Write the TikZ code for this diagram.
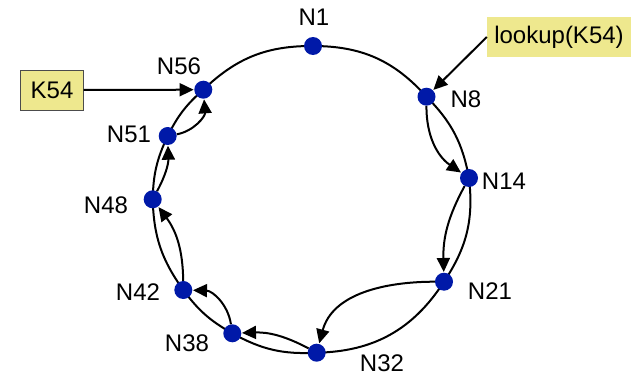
\documentclass[tikz,border=0pt]{standalone}
\usepackage{fontspec}
\setmainfont{Liberation Sans}
\usetikzlibrary{arrows.meta,backgrounds}
\definecolor{dotblue}{RGB}{0,25,168}
\definecolor{boxyellow}{RGB}{238,232,142}
\begin{document}
\begin{tikzpicture}[x=1pt,y=1pt,
  dot/.style={circle,fill=dotblue,inner sep=0pt,minimum size=18pt},
  lbl/.style={font=\fontsize{24}{28}\selectfont,inner sep=0pt},
  ring/.style={line width=2pt},
  finger/.style={line width=2pt,-{Triangle[length=14pt,width=13pt]},shorten >=0.5pt},
  keybox/.style={fill=boxyellow,inner sep=0pt,font=\fontsize{24}{28}\selectfont}]
\useasboundingbox (0,0) rectangle (635,376);
\node[dot] (N1) at (313,330) {};
\node[dot] (N8) at (426.5,279.3) {};
\node[dot] (N14) at (469,198) {};
\node[dot] (N21) at (444,94.3) {};
\node[dot] (N32) at (316.7,23.3) {};
\node[dot] (N38) at (232.3,42.7) {};
\node[dot] (N42) at (183.3,86) {};
\node[dot] (N48) at (152.7,176.7) {};
\node[dot] (N51) at (167.7,240) {};
\node[dot] (N56) at (203.3,286.3) {};
\begin{scope}[on background layer]
\draw[ring] (N1.center) to[bend left=24] (N8.center)
  to[bend left=17] (N14.center)
  to[bend left=20] (N21.center)
  to[bend left=28] (N32.center)
  to[bend left=16] (N38.center)
  to[bend left=12] (N42.center)
  to[bend left=17] (N48.center)
  to[bend left=12] (N51.center)
  to[bend left=11] (N56.center)
  to[bend left=22] (N1.center);
\end{scope}
\node[lbl] (L1) at (314,359) {N1};
\node[lbl] (L8) at (466,277) {N8};
\node[lbl] (L14) at (504,195) {N14};
\node[lbl] (L21) at (490,85) {N21};
\node[lbl] (L32) at (382,13) {N32};
\node[lbl] (L38) at (187,33) {N38};
\node[lbl] (L42) at (138,84) {N42};
\node[lbl] (L48) at (106,171) {N48};
\node[lbl] (L51) at (129,242) {N51};
\node[lbl] (L56) at (179,310) {N56};
\node[keybox,draw=black!70,line width=0.8pt,minimum width=62.6pt,minimum height=40pt] (K) at (52,286) {K54};
\node[keybox,minimum width=144pt,minimum height=40pt] (LK) at (559,339) {lookup(K54)};
\draw[finger] (K.east) -- (N56.west);
\draw[finger] (LK.west) -- (N8);
\draw[finger] (N8) to[bend right=28] (N14);
\draw[finger] (N14) to[bend right=15] (N21);
\draw[finger] (N21) to[out=180,in=75] (N32);
\draw[finger] (N32) to[bend right=15] (N38);
\draw[finger] (N38) to[bend right=40] (N42);
\draw[finger] (N42) to[bend right=18] (N48);
\draw[finger] (N48) to[bend right=15] (N51);
\draw[finger] (N51) to[bend right=42] (N56);
\end{tikzpicture}
\end{document}
